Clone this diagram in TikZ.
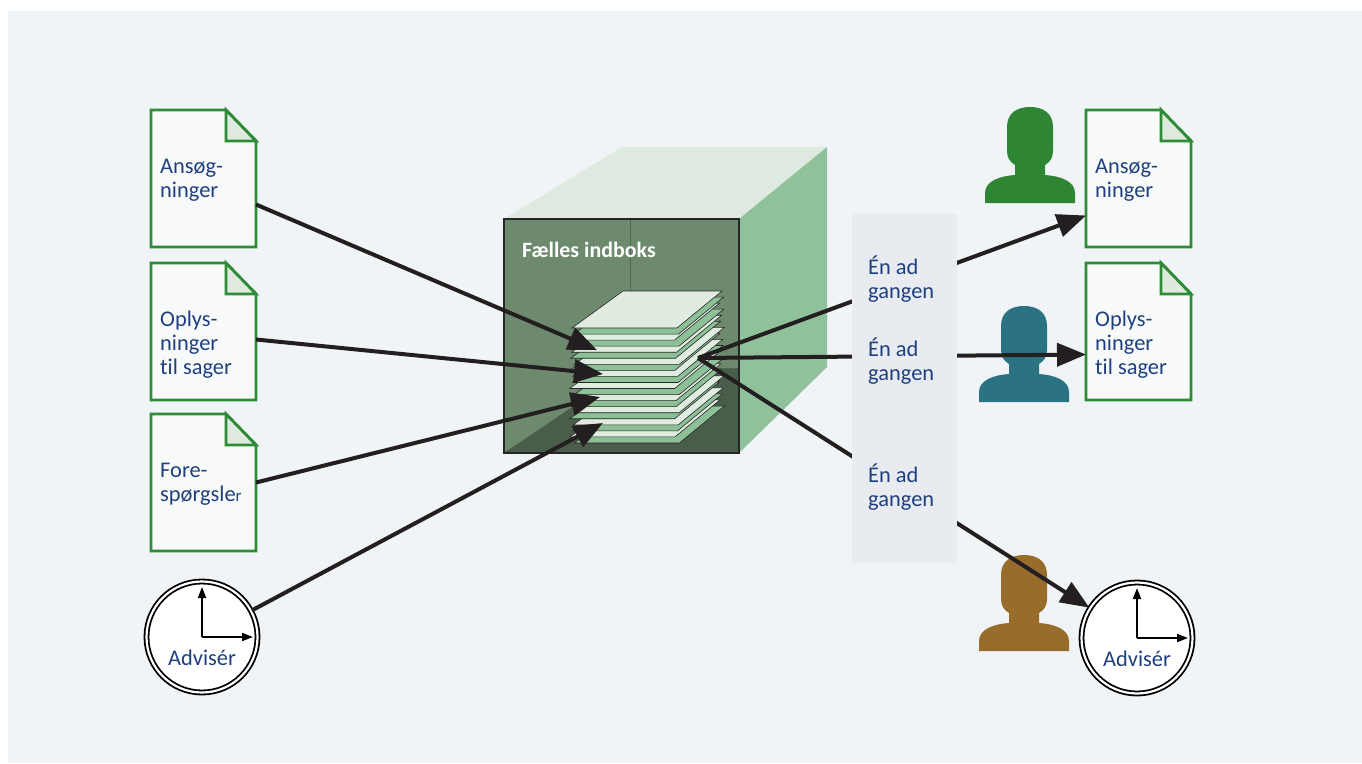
\documentclass[tikz,border=0pt]{standalone}
\usepackage{fontspec}
\setmainfont{Carlito}[Ligatures=NoCommon]
\usetikzlibrary{arrows.meta}

\definecolor{bgpanel}{HTML}{F0F4F7}
\definecolor{tagpanel}{HTML}{E8ECF0}
\definecolor{docgreen}{HTML}{2E8B37}
\definecolor{foldgreen}{HTML}{DDEADD}
\definecolor{docwhite}{HTML}{F8FAFA}
\definecolor{textblue}{HTML}{1F3F7E}
\definecolor{boxtop}{HTML}{DEEADF}
\definecolor{boxside}{HTML}{8FC29B}
\definecolor{boxfront}{HTML}{6E8A6E}
\definecolor{boxfloor}{HTML}{4A5D4A}
\definecolor{boxwall}{HTML}{4F6B4F}
\definecolor{sheetlight}{HTML}{E0ECE0}
\definecolor{sheetgreen}{HTML}{8CC097}
\definecolor{persongreen}{HTML}{2E8534}
\definecolor{personteal}{HTML}{2B7282}
\definecolor{personbrown}{HTML}{986C2B}
\definecolor{arrowblack}{HTML}{231F20}

\def\labelfont{\fontsize{22.5}{24}\selectfont}
\def\titlefont{\fontsize{22}{24}\selectfont\bfseries}

\tikzset{
  docbox/.style={rectangle, minimum width=105bp, minimum height=137bp, inner sep=0pt, outer sep=0pt},
  docline/.style={draw=docgreen, line width=2.8bp, line join=miter},
  doctext/.style={anchor=base west, align=left, inner sep=0pt, font=\labelfont, text=textblue},
  clockface/.style={circle, draw=black, double=white, double distance=2.2bp, line width=1.8bp, fill=white, minimum size=111bp, inner sep=0pt},
  hand/.style={line width=1.8bp, -{Triangle[length=11bp,width=8bp]}},
  flow/.style={draw=arrowblack, line width=4bp, -{Triangle[length=29bp,width=23bp]}},
  sheet/.style={draw=black!85, line width=0.6bp, line join=miter}
}

% top left corner, name, baseline of last text line, text
\def\docicon(#1,#2)#3#4#5{
  \node[docbox, anchor=north west] (#3) at (#1,#2) {};
  \draw[docline, fill=docwhite] (#3.north west) -- ([xshift=-30bp]#3.north east) -- ([yshift=-31bp]#3.north east) -- (#3.south east) -- (#3.south west) -- cycle;
  \draw[docline, fill=foldgreen] ([xshift=-30bp]#3.north east) -- ([xshift=-30bp,yshift=-31bp]#3.north east) -- ([yshift=-31bp]#3.north east) -- cycle;
  \node[doctext] at ([xshift=9bp,yshift=-#4bp]#3.north west) {#5};
}
% centre, name
\def\clockicon(#1,#2)#3{
  \node[clockface] (#3) at (#1,#2) {};
  \draw[hand] (#3.center) -- ++(0,-50);
  \draw[hand] (#3.center) -- ++(51,0);
  \node[doctext, anchor=base] at ([yshift=-28bp]#3.center) {Advisér};
}
% bottom centre, colour
\def\personicon(#1,#2)#3{
  \fill[#3, shift={(#1,#2)}] (-45,0) -- (-45,-10) .. controls (-45,-22) and (-30,-27) .. (-15,-28) -- (-15,-38) .. controls (-20,-41) and (-23,-45) .. (-23,-52) -- (-23,-76) .. controls (-23,-90) and (-13,-96) .. (0,-96) .. controls (13,-96) and (23,-90) .. (23,-76) -- (23,-52) .. controls (23,-45) and (20,-41) .. (15,-38) -- (15,-28) .. controls (30,-27) and (45,-22) .. (45,-10) -- (45,0) -- cycle;
}

\begin{document}
\begin{tikzpicture}[x=1bp, y=-1bp]
  %%%%% START %%%%%
  \useasboundingbox (0,0) rectangle (1362,763);
  \fill[white] (0,0) rectangle (1362,763);
  \fill[bgpanel] (8,11) rectangle (1362,763);

  % inbox
  \fill[boxtop] (504,219) -- (739,219) -- (827,147) -- (622,147) -- cycle;
  \fill[boxside] (739,219) -- (827,147) -- (827,367) -- (739,453) -- cycle;
  \fill[boxfront] (504,219) rectangle (739,453);
  \fill[boxfloor] (504,453) -- (630,368) -- (739,368) -- (739,453) -- cycle;
  \draw[boxwall, line width=0.8bp] (630,219) -- (630,368) -- (739,368);
  \draw[black!85, line width=1.6bp] (504,219) rectangle (739,453);
  \node[anchor=base west, inner sep=0pt, font=\titlefont, text=white] (indboks) at (522,257) {Fælles indboks};

  % stack of letters
  \foreach \i in {19,18,...,0}{
    \ifodd\i \def\sheetcol{sheetgreen}\else\def\sheetcol{sheetlight}\fi
    \pgfmathsetmacro\dx{2.5*sin(\i*137)}
    \draw[sheet, fill=\sheetcol] (572+\dx,328+\i*6.05) -- ++(105,0) -- ++(45,-37) -- ++(-99,0) -- cycle;
  }
  \coordinate (in1) at (597,350);
  \coordinate (in2) at (603,374);
  \coordinate (in3) at (600,397);
  \coordinate (in4) at (603,423);
  \coordinate (out) at (698,358);

  % left side
  \docicon(151,110){ansoegL}{87}{Ansøg-\\ninger}
  \docicon(151,263){oplysL}{111}{Oplys-\\ninger\\til sager}
  \docicon(151,414){foresp}{87}{Fore-\\spørgsle{\fontsize{17}{24}\selectfont r}}
  \clockicon(202,637){advisL}

  % right side
  \personicon(1030,203){persongreen}
  \personicon(1024,402){personteal}
  \personicon(1024,651){personbrown}
  \docicon(1086,110){ansoegR}{87}{Ansøg-\\ninger}
  \docicon(1086,263){oplysR}{111}{Oplys-\\ninger\\til sager}
  \clockicon(1137,638){advisR}

  % arrows in
  \draw[flow] ([yshift=-26bp]ansoegL.east) -- (in1);
  \draw[flow] ([yshift=-8bp]oplysL.east) -- (in2);
  \draw[flow] (foresp.east) -- (in3);
  \draw[flow] (advisL) -- (in4);

  % arrows out
  \draw[flow] (out) -- ([yshift=-37bp]ansoegR.west);
  \draw[flow] (out) -- ([yshift=-23bp]oplysR.west);
  \draw[flow] (out) -- (advisR);

  \fill[tagpanel] (852,214) rectangle (957,563);
  \node[doctext] (enad1) at (868,298) {Én ad\\gangen};
  \node[doctext] (enad2) at (868,380) {Én ad\\gangen};
  \node[doctext] (enad3) at (868,506) {Én ad\\gangen};
  %%%%% END %%%%%
\end{tikzpicture}
\end{document}
